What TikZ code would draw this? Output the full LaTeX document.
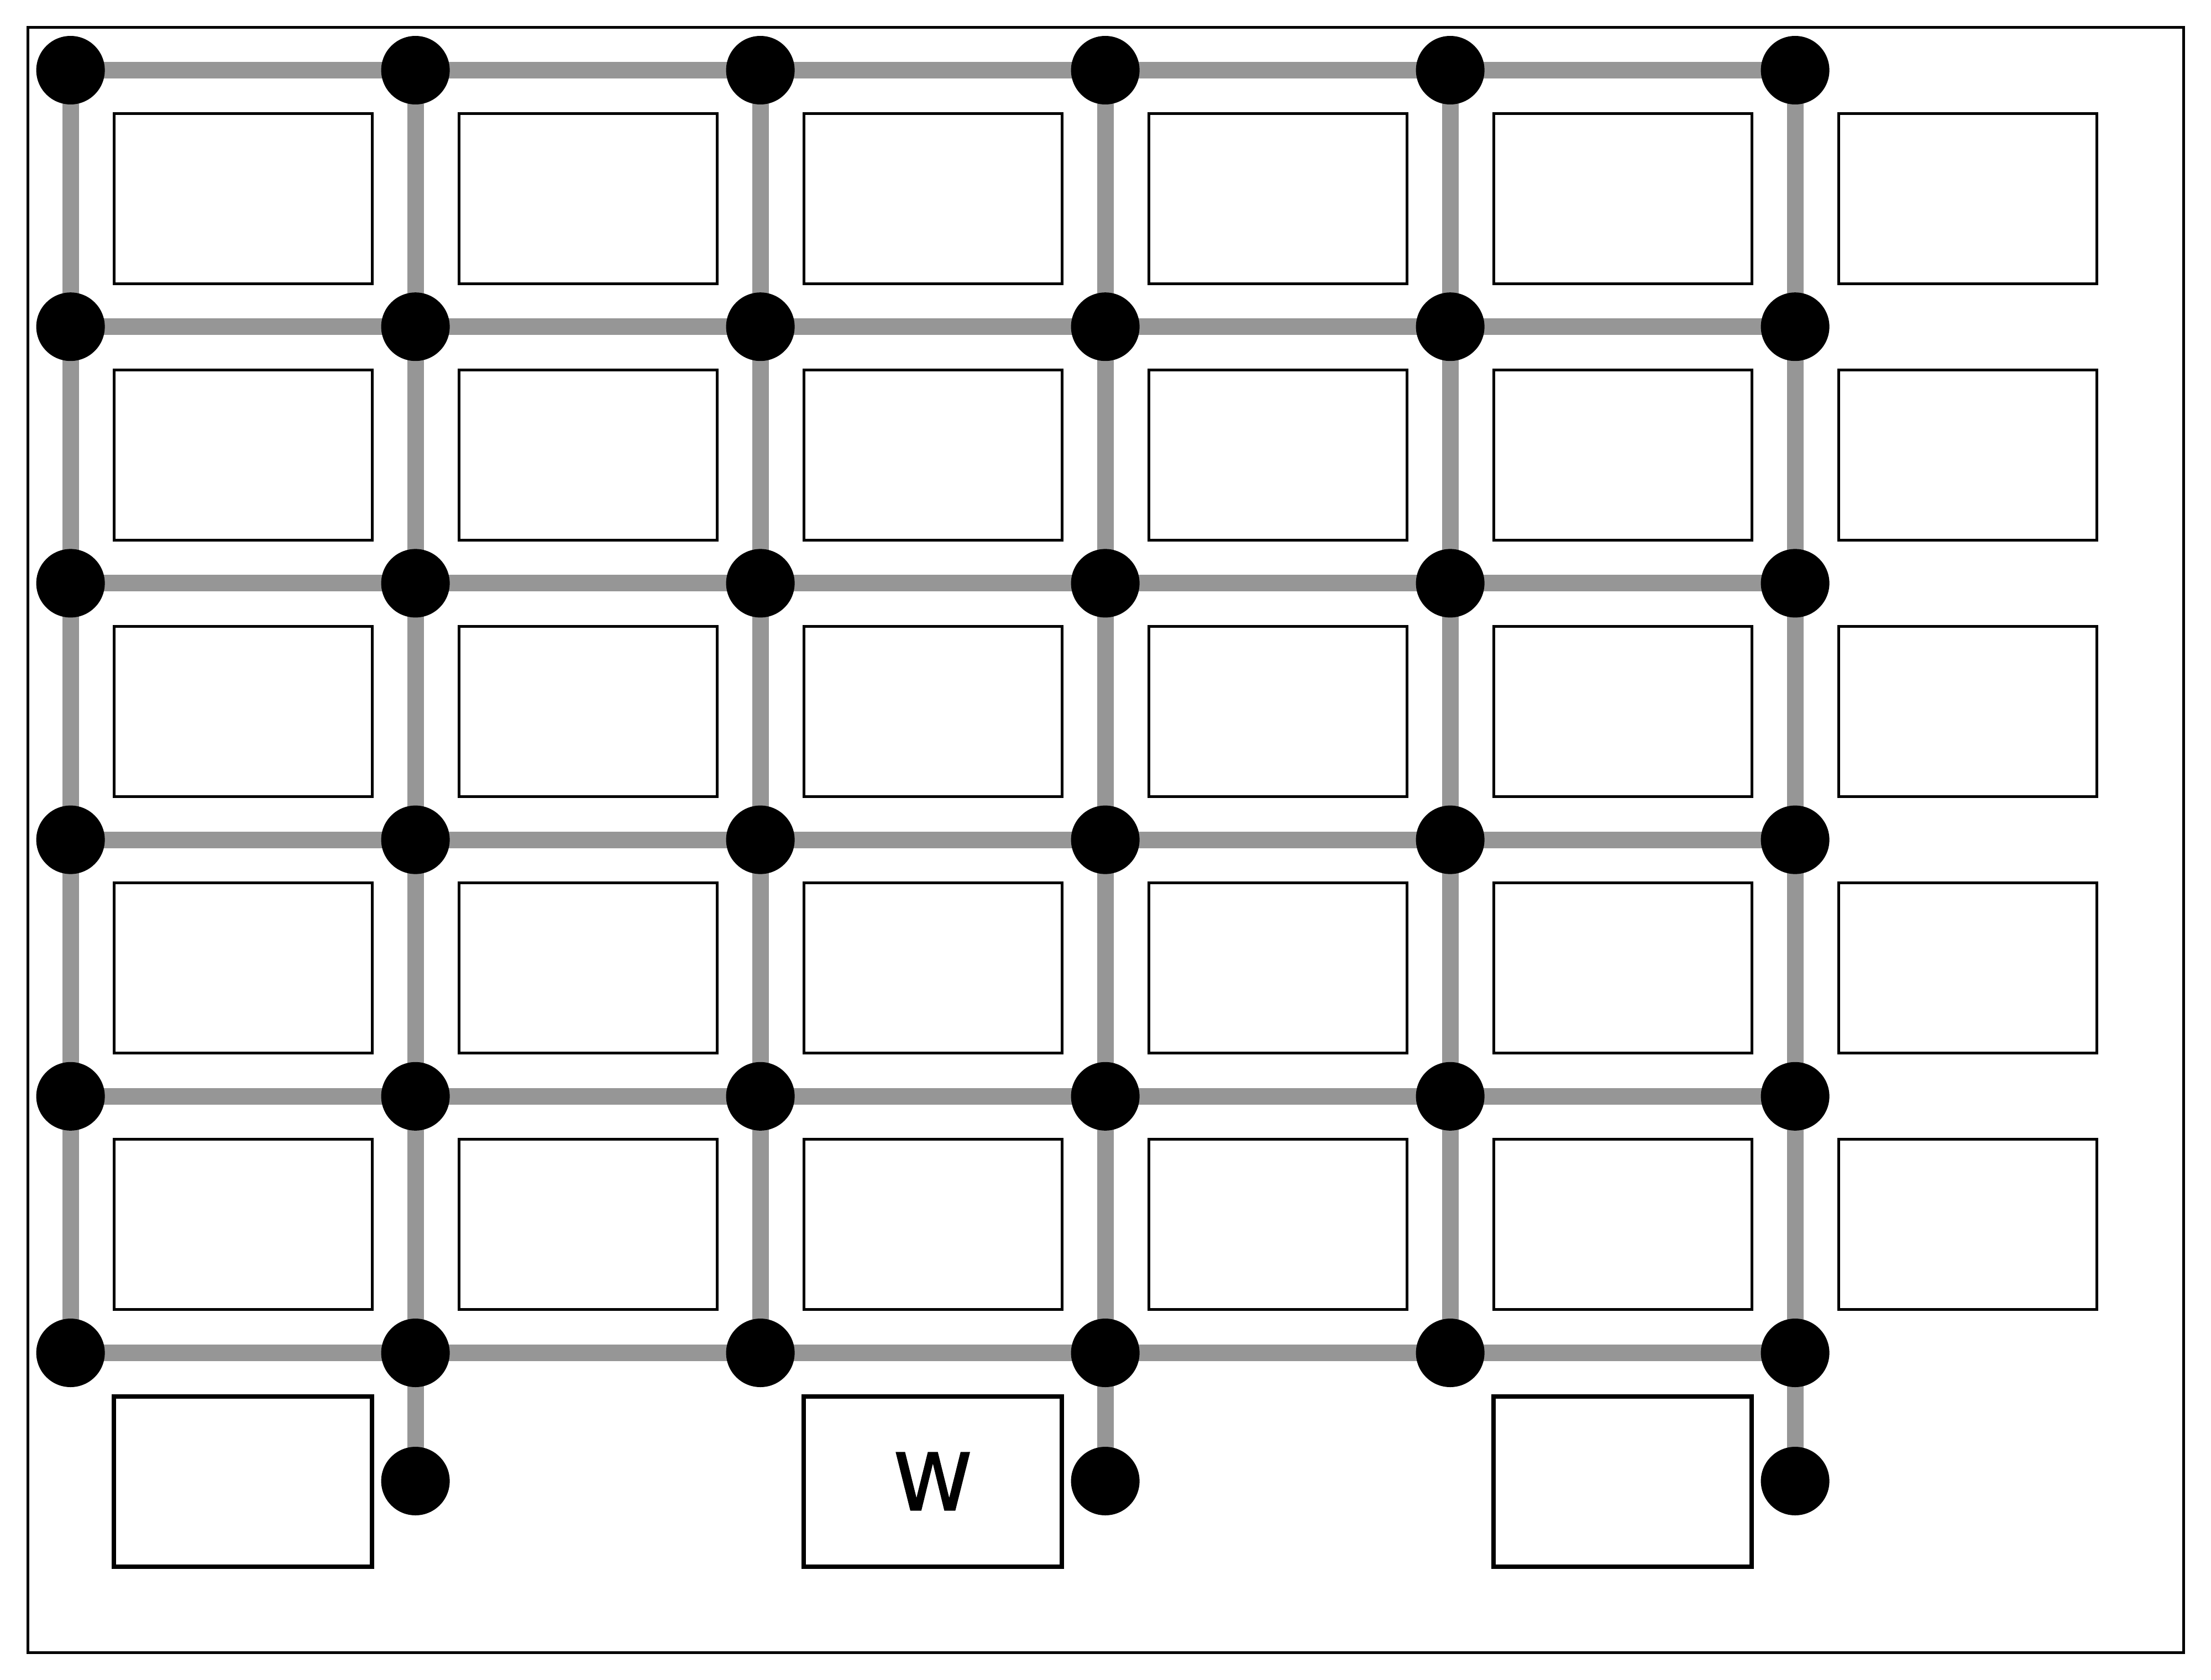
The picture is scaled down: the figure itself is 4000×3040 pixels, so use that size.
\documentclass[tikz,border=0pt]{standalone}
\usepackage{fontspec}
\setmainfont{DejaVu Sans}
\newfontfamily\wfont[FakeBold=2]{DejaVu Sans}
\pgfdeclarelayer{background}
\pgfsetlayers{background,main}
\definecolor{gridgray}{RGB}{150,150,150}
\begin{document}
\begin{tikzpicture}[x=1pt,y=-1pt,
  dot/.style={circle,fill=black,inner sep=0pt,minimum size=124pt},
  cell/.style={draw=black,line width=5pt,inner sep=0pt,minimum width=467pt,minimum height=308pt},
  basecell/.style={cell,line width=8pt},
  wire/.style={draw=gridgray,line width=30pt},
  frame/.style={draw=black,line width=5pt},
  label/.style={font=\wfont\fontsize{142}{170}\selectfont}]
\useasboundingbox (0,0) rectangle (4000,3040);
\draw[frame] (50,50) rectangle (3950,2990);
% dots
\foreach \i in {0,...,5}
  \foreach \j in {0,...,5}
    \node[dot] (d-\i-\j) at ({127.6+624*\i},{127+464.2*\j}) {};
\foreach \i in {1,3,5}
  \node[dot] (e-\i) at ({127.6+624*\i},2680) {};
% cells
\foreach \i in {0,...,5}
  \foreach \j in {0,...,4}
    \node[cell] (b-\i-\j) at ({439.6+624*\i},{359.1+464.2*\j}) {};
\node[basecell] (c-0) at (439.6,2680.5) {};
\node[basecell,label] (c-2) at (1687.6,2680.5) {W};
\node[basecell] (c-4) at (2935.6,2680.5) {};
% wires
\begin{pgfonlayer}{background}
\foreach \j in {0,...,5}
  \foreach \i [count=\k from 1] in {0,...,4}
    \draw[wire] (d-\i-\j.center) -- (d-\k-\j.center);
\foreach \i in {0,...,5}
  \foreach \j [count=\k from 1] in {0,...,4}
    \draw[wire] (d-\i-\j.center) -- (d-\i-\k.center);
\foreach \i in {1,3,5}
  \draw[wire] (d-\i-5.center) -- (e-\i.center);
\end{pgfonlayer}
\end{tikzpicture}
\end{document}
